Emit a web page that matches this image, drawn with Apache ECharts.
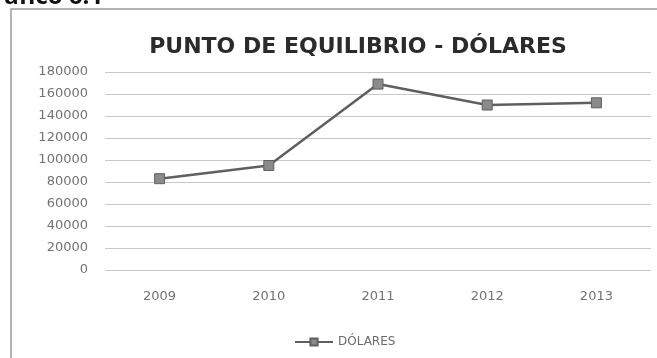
<!DOCTYPE html>
<html>
<head>
<meta charset="utf-8">
<script src="https://cdn.jsdelivr.net/npm/echarts@6/dist/echarts.min.js"></script>
<style>
  html, body { margin: 0; padding: 0; background: #ffffff; }
  #chart { width: 657px; height: 358px; }
</style>
</head>
<body>
<div id="chart"></div>
<script>
// Break-even point in dollars, by year
const years = ['2009', '2010', '2011', '2012', '2013'];
const dolares = [83000, 95000, 169000, 150000, 152000];
const yTicks = [0, 20000, 40000, 60000, 80000, 100000, 120000, 140000, 160000, 180000];

const chart = echarts.init(document.getElementById('chart'), null, { renderer: 'canvas' });

chart.setOption({
  backgroundColor: '#ffffff',
  animation: false,
  title: {
    text: 'PUNTO DE EQUILIBRIO - DÓLARES',
    left: 353,
    top: 31,
    textAlign: 'center',
    textStyle: {
      fontFamily: 'DejaVu Sans',
      fontSize: 22,
      fontWeight: 'bold',
      color: '#2b2b2b'
    }
  },
  graphic: [
    {
      type: 'rect',
      shape: { x: 11, y: 9, width: 1000, height: 400 },
      style: { fill: 'none', stroke: '#9a9a9a', lineWidth: 1.5 },
      z: -1
    },
    {
      type: 'text',
      x: -24,
      y: -15,
      style: {
        text: 'Gráfico 6.1',
        fontFamily: 'Open Sans',
        fontSize: 24,
        fontWeight: 'bold',
        fill: '#111111',
        verticalAlign: 'top'
      }
    }
  ],
  legend: {
    data: ['DÓLARES'],
    top: 331,
    left: 289,
    itemWidth: 38,
    itemHeight: 9,
    itemGap: 4,
    textStyle: { fontFamily: 'DejaVu Sans', fontSize: 12, color: '#6a6a6a' }
  },
  grid: { left: 105, right: 6, top: 72, bottom: 88 },
  xAxis: {
    type: 'category',
    data: years,
    boundaryGap: true,
    axisLine: { show: false },
    axisTick: { show: false },
    axisLabel: { margin: 20, fontFamily: 'DejaVu Sans', fontSize: 13, color: '#737373' }
  },
  yAxis: {
    type: 'value',
    min: yTicks[0],
    max: yTicks[yTicks.length - 1],
    interval: yTicks[1] - yTicks[0],
    axisLine: { show: false },
    axisTick: { show: false },
    axisLabel: {
      margin: 17,
      fontFamily: 'DejaVu Sans',
      fontSize: 13,
      color: '#737373',
      formatter: (v) => String(v)
    },
    splitLine: { lineStyle: { color: '#c8c8c8', width: 1 } }
  },
  series: [
    {
      name: 'DÓLARES',
      type: 'line',
      data: dolares,
      symbol: 'rect',
      symbolSize: 10,
      lineStyle: { color: '#5f5f5f', width: 2.5 },
      itemStyle: { color: '#8a8a8a', borderColor: '#5f5f5f', borderWidth: 1 }
    }
  ]
});
</script>
</body>
</html>
